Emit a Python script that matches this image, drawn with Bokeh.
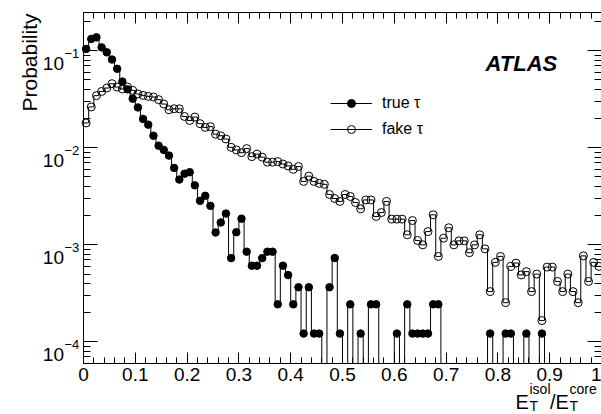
import numpy as np
from bokeh.plotting import figure
from bokeh.models import (ColumnDataSource, FixedTicker, LinearAxis, LogAxis, Label,
                          Legend, LegendItem, NumeralTickFormatter, CustomJSTickFormatter, Range1d)
from bokeh.embed import file_html
from bokeh.resources import INLINE

# ---------------- data (probability per bin, 100 bins of width 0.01) ----------------
true_tau = [
    0.104, 0.132, 0.137, 0.108, 0.096, 0.081, 0.065, 0.048, 0.040, 0.032,
    0.026, 0.0198, 0.0173, 0.0133, 0.0105, 0.0095, 0.0083, 0.0062, 0.0047, 0.0054,
    0.0056, 0.0041, 0.00284, 0.0032, 0.00252, 0.00134, 0.0017, 0.0021, 0.00073, 0.00135,
    0.00186, 0.00085, 0.00061, 0.00061, 0.00073, 0.00085, 0.00085, 0.000244, 0.00061, 0.000488,
    0.000244, 0.000366, 0.000122, 0.000366, 0.000122, 0.000122, 0.0, 0.000366, 0.000732, 0.000122,
    0.0, 0.000244, 0.0, 0.000122, 0.0, 0.000244, 0.000244, 0.0, 0.0, 0.0,
    0.000122, 0.0, 0.000244, 0.000122, 0.000122, 0.000122, 0.000122, 0.000244, 0.000244, 0.0,
    0.0, 0.0, 0.0, 0.0, 0.0, 0.0, 0.0, 0.0, 0.000122, 0.0,
    0.0, 0.000122, 0.000122, 0.0, 0.0, 0.000122, 0.0, 0.0, 0.000122, 0.0,
    0.0, 0.0, 0.0, 0.0, 0.0, 0.0, 0.0, 0.0, 0.0, 0.0,
]
fake_tau = [
    0.018, 0.0263, 0.0344, 0.038, 0.0412, 0.0457, 0.0422, 0.0403, 0.0422, 0.039,
    0.0358, 0.0346, 0.0338, 0.0333, 0.0313, 0.0282, 0.0246, 0.0252, 0.0252, 0.021,
    0.0191, 0.0207, 0.0177, 0.0162, 0.0165, 0.0138, 0.0133, 0.0123, 0.0101, 0.0095,
    0.0089, 0.0098, 0.0081, 0.0086, 0.0080, 0.0071, 0.0071, 0.0072, 0.0068, 0.0065,
    0.0060, 0.0064, 0.0045, 0.0051, 0.0045, 0.0043, 0.0042, 0.0033, 0.0030, 0.0028,
    0.0033, 0.00315, 0.00273, 0.00235, 0.0029, 0.0029, 0.00196, 0.00215, 0.0028, 0.00184,
    0.00184, 0.00184, 0.00127, 0.00178, 0.00111, 0.00100, 0.00137, 0.00204, 0.00076, 0.00117,
    0.0015, 0.00100, 0.00110, 0.00110, 0.00083, 0.00100, 0.00127, 0.00091, 0.00033, 0.00066,
    0.00076, 0.000254, 0.00060, 0.00065, 0.00049, 0.00053, 0.00033, 0.00050, 0.000166, 0.00059,
    0.00059, 0.00042, 0.00033, 0.00050, 0.00033, 0.000254, 0.00077, 0.00042, 0.00066, 0.00060,
]
x_min, x_max, n_bins = 0.0, 1.0, 100
y_min, y_max = 6e-5, 0.25
x_major_ticks = [0.0, 0.1, 0.2, 0.3, 0.4, 0.5, 0.6, 0.7, 0.8, 0.9, 1.0]
y_decades = [1e-4, 1e-3, 1e-2, 1e-1]
y_exponents = ["\u22124", "\u22123", "\u22122", "\u22121"]
series_labels = ["true \u03c4", "fake \u03c4"]

# ---------------- layout: the frame fills the canvas, axes sit at fixed places ----------------
W, H = 601, 414
AX_L, AX_R, AX_T, AX_B = 83.0, 601.0, 11.5, 363.0   # pixel positions of the four axes
sx = (AX_R - AX_L) / (x_max - x_min)
x_start = x_min - AX_L / sx
x_end = x_max + (W - AX_R) / sx
ly0, ly1 = np.log10(y_min), np.log10(y_max)
sy = (AX_B - AX_T) / (ly1 - ly0)
y_start = 10 ** (ly0 - (H - AX_B) / sy)
y_end = 10 ** (ly1 + AX_T / sy)

# ---------------- derived ----------------
edges = np.linspace(x_min, x_max, n_bins + 1)
centers = 0.5 * (edges[:-1] + edges[1:])

def step_source(vals):
    v = np.array(vals, dtype=float)
    v = np.where(v > 0, v, y_min)   # empty bins drop to the bottom axis
    return ColumnDataSource(dict(x=edges, y=np.append(v, v[-1])))

def marker_source(vals):
    v = np.array(vals, dtype=float)
    m = v > 0
    return ColumnDataSource(dict(x=centers[m], y=v[m]))

FONT = "Liberation Sans"

p = figure(width=W, height=H, y_axis_type="log",
           x_range=Range1d(x_start, x_end), y_range=Range1d(y_start, y_end),
           output_backend="svg", toolbar_location=None,
           min_border_left=0, min_border_right=0, min_border_top=0, min_border_bottom=0)
p.background_fill_color = "white"
p.border_fill_color = "white"
p.outline_line_color = None
p.xgrid.visible = False
p.ygrid.visible = False

x_minor = [i * 0.02 for i in range(51)]
y_minor = [k * 10.0 ** e for e in range(-5, 0) for k in range(2, 10)]
y_minor = [t for t in y_minor if y_min <= t <= y_max]
x_ticker = FixedTicker(ticks=x_major_ticks, minor_ticks=x_minor)
y_ticker = FixedTicker(ticks=y_decades, minor_ticks=y_minor)

def style_axis(ax, major_in, minor_in, show_labels):
    ax.axis_line_color = "black"
    ax.axis_line_width = 1
    ax.major_tick_in = major_in
    ax.major_tick_out = 0
    ax.minor_tick_in = minor_in
    ax.minor_tick_out = 0
    ax.major_tick_line_color = "black"
    ax.minor_tick_line_color = "black"
    if show_labels:
        ax.major_label_text_font = FONT
        ax.major_label_text_font_size = "19px"
        ax.major_label_text_color = "black"
        ax.major_label_standoff = 4
    else:
        ax.formatter = CustomJSTickFormatter(code="return ''")
        ax.major_label_text_font_size = "1px"
        ax.major_label_text_color = None
        ax.major_label_standoff = 0

bx = p.xaxis[0]
bx.ticker = x_ticker
bx.formatter = NumeralTickFormatter(format="0.[0]")
bx.fixed_location = y_min
bx.bounds = (x_min, x_max)
style_axis(bx, 11, 6, True)

ly = p.yaxis[0]
ly.ticker = y_ticker
ly.fixed_location = x_min
ly.bounds = (y_min, y_max)
style_axis(ly, 14, 7, False)

tx = LinearAxis(ticker=x_ticker, fixed_location=y_max, bounds=(x_min, x_max))
style_axis(tx, 11, 6, False)
p.add_layout(tx, "above")

ry = LogAxis(ticker=y_ticker, fixed_location=x_max, bounds=(y_min, y_max))
style_axis(ry, 14, 7, False)
p.add_layout(ry, "right")

# ---------------- histograms ----------------
fake_line = p.step(x="x", y="y", source=step_source(fake_tau), mode="after",
                   line_color="black", line_width=1)
fake_pts = p.scatter(x="x", y="y", source=marker_source(fake_tau), marker="circle",
                     size=8, fill_alpha=0, line_color="black", line_width=1)
true_line = p.step(x="x", y="y", source=step_source(true_tau), mode="after",
                   line_color="black", line_width=1)
true_pts = p.scatter(x="x", y="y", source=marker_source(true_tau), marker="circle",
                     size=7.5, fill_color="black", line_color="black")

legend = Legend(items=[LegendItem(label=series_labels[0], renderers=[true_line, true_pts]),
                       LegendItem(label=series_labels[1], renderers=[fake_line, fake_pts])],
                location=(330, H - 139), orientation="vertical",
                glyph_width=42, glyph_height=20, label_height=20, label_standoff=10,
                spacing=6, padding=0, margin=0,
                border_line_color=None, background_fill_alpha=0,
                label_text_font=FONT, label_text_font_size="16px", label_text_color="black")
p.add_layout(legend, "center")

# ---------------- texts (screen coordinates, picture pixels from top-left) ----------------
def lab(text, ix, iy, size, align="left", baseline="alphabetic", style="normal", angle=0.0,
        ydata=None, y_offset=0):
    if ydata is None:
        kw = dict(y=H - iy, y_units="screen")
    else:
        kw = dict(y=ydata, y_units="data", y_offset=y_offset)
    p.add_layout(Label(x=ix, x_units="screen", text=text, text_font=FONT,
                       text_font_size=size, text_font_style=style, text_align=align,
                       text_baseline=baseline, angle=angle, text_color="black", **kw))

for d, e in zip(y_decades, y_exponents):
    lab("10", 63.5, None, "19px", align="right", ydata=d, y_offset=-13)
    lab(e, 64, None, "13px", align="left", ydata=d, y_offset=-3)

lab("Probability", 29, 13, "21px", align="right", angle=np.pi / 2)
lab("ATLAS", 485, 63, "22px", style="bold italic")

# x title  E_T^isol / E_T^core
base = 401
lab("E", 515, base, "20px")
lab("T", 529, base + 4, "14px")
lab("isol", 529, base - 13, "14px")
lab("/", 549.5, base, "20px")
lab("E", 555, base, "20px")
lab("T", 569, base + 4, "14px")
lab("core", 569, base - 13, "14px")

open("out.html", "w").write(file_html(p, INLINE))
